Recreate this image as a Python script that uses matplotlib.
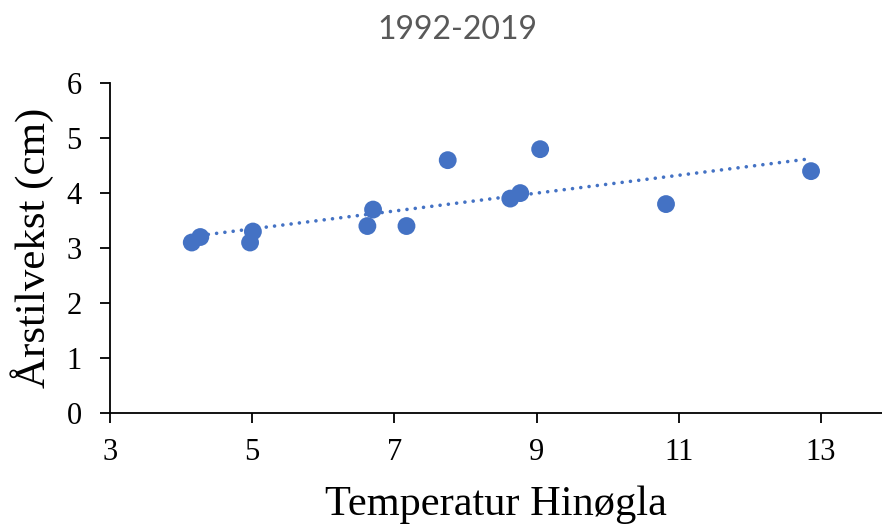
import numpy as np
import matplotlib
matplotlib.use("Agg")
import matplotlib.pyplot as plt

temperature = [4.15, 4.27, 4.97, 5.01, 6.62, 6.70, 7.17, 7.75, 8.63, 8.77, 9.05, 10.82, 12.86]
growth = [3.1, 3.2, 3.1, 3.3, 3.4, 3.7, 3.4, 4.6, 3.9, 4.0, 4.8, 3.8, 4.4]
x_ticks = [3, 5, 7, 9, 11, 13]
y_ticks = [0, 1, 2, 3, 4, 5, 6]
title = "1992-2019"
x_label = "Temperatur Hinøgla"
y_label = "Årstilvekst (cm)"

color = "#4472C4"

fig = plt.figure(figsize=(8.82, 5.25), dpi=100)
ax = fig.add_axes([110/882, 1-412.7/525, 1-110/882, (412.7-83.3)/525])

ax.scatter(temperature, growth, s=165, color=color, edgecolors="none", zorder=3)

# linear trendline
coef = np.polyfit(temperature, growth, 1)
xs = np.array([min(temperature), max(temperature)])
ax.plot(xs, np.polyval(coef, xs), color=color, lw=2.6,
        linestyle=(0, (0.01, 2.3)), dash_capstyle="round", zorder=2)

ax.set_xlim(3, 3 + 772/71.1)
ax.set_ylim(0, 6)
ax.set_xticks(x_ticks)
ax.set_yticks(y_ticks)

serif = "Liberation Serif"
for lab in ax.get_xticklabels() + ax.get_yticklabels():
    lab.set_fontfamily(serif)
    lab.set_fontsize(22)
ax.tick_params(axis="both", direction="out", length=7.5, width=1.3, color="black")
ax.tick_params(axis="x", pad=11)
ax.tick_params(axis="y", pad=13)

for s in ["top", "right"]:
    ax.spines[s].set_visible(False)
for s in ["left", "bottom"]:
    ax.spines[s].set_linewidth(1.3)
    ax.spines[s].set_color("black")

ax.set_xlabel(x_label, fontfamily=serif, fontsize=30.5, labelpad=13)
ax.set_ylabel(y_label, fontfamily=serif, fontsize=31, labelpad=9)

fig.text(0.518, 1 - 30/525, title, fontfamily="Lato", fontsize=23, color="#595959",
         ha="center", va="center")

fig.savefig("out.png", dpi=100)
